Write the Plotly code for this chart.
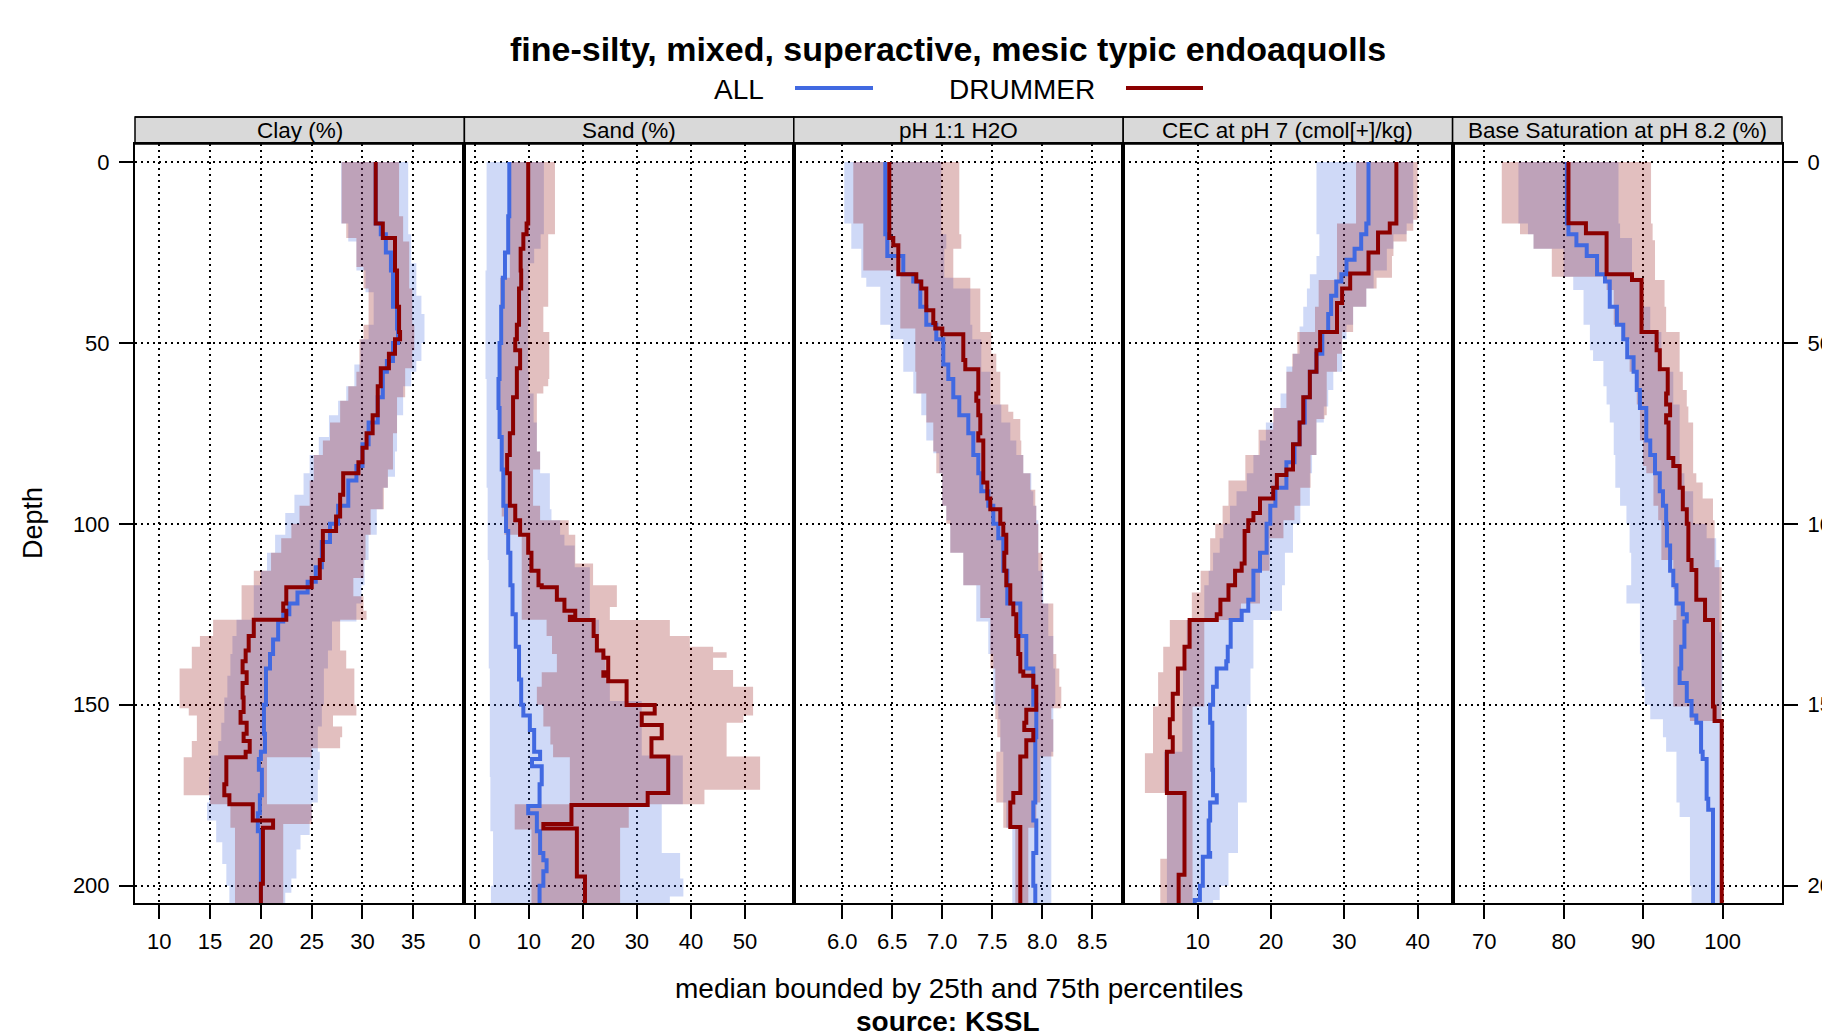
import plotly.graph_objects as go

# ---------------- data: (depth cm, value) pairs ----------------
# Clay (%)
clay_all_p25 = [(0,27.9),(17,28.6),(22,29.4),(30,30.3),(36,31.1),(45,30.6),(49,29.8),(56,29.2),(62,28.4),(66,27.6),(70,26.7),(76,25.7),(81,24.8),(86,24.2),(92,23.3),(97,22.4),(103,21.4),(108,20.6),(113,20.0),(117,19.3),(126.5,17.6),(131,17.2),(136,17.0),(142,16.7),(148,16.4),(155,16.1),(160,15.8),(164,15.0),(170,14.9),(177,14.7),(182,15.6),(188,16.2),(194,16.6),(200,16.9),(205,17.2)]
clay_all_med = [(0,31.3),(17,31.8),(20,32.3),(25,32.8),(30,33.0),(40,33.4),(46,33.5),(50,33.0),(55,32.4),(58,32.0),(65,31.5),(72,30.6),(78,30.0),(84,29.4),(88,28.6),(95,27.6),(100,26.8),(105,26.0),(112,25.4),(116,24.6),(119,23.6),(122,22.8),(125,22.2),(127,21.7),(132,21.2),(136,20.9),(140,20.5),(150,20.3),(158,20.4),(163,20.0),(165,19.8),(168,20.1),(175,19.9),(180,19.7),(185,20.0),(205,20.0)]
clay_all_p75 = [(0,34.5),(20,34.8),(28,35.3),(37,35.8),(42,36.1),(50,35.8),(55,35.3),(58,34.8),(62,34.0),(70,33.4),(80,33.2),(87,32.5),(90,32.0),(96,31.4),(103,30.6),(110,30.2),(117,29.9),(122,29.4),(127,27.0),(135,26.6),(140,26.2),(150,26.0),(156,25.6),(163,25.8),(168,25.6),(177,25.0),(182,24.8),(186,23.9),(190,23.5),(198,23.0),(202,22.4),(205,22.2)]
clay_dr_p25 = [(0,27.95),(17,28.4),(21,29.4),(29,30.1),(35,30.6),(45,30.1),(49,29.7),(58,29.4),(62,28.6),(66,27.8),(72,26.8),(77,26.1),(81,25.2),(88,24.8),(95,23.8),(100,23.0),(104,22.0),(108,21.0),(113,19.3),(117,18.1),(126.5,15.3),(131,14.0),(134,13.2),(140,12.0),(151,12.9),(153,13.7),(160,13.2),(164.5,12.4),(175,15.0),(177.5,17.0),(184,17.45),(205,17.45)]
clay_dr_med = [(0,31.3),(17,32.0),(21,33.2),(30,33.4),(40,33.6),(47,33.7),(49,33.2),(53,32.6),(57,31.8),(62,31.5),(70,31.0),(75,30.4),(79,30.0),(83,29.6),(86,28.1),(92,27.8),(98,27.4),(102,26.1),(110,25.8),(115,25.0),(117.5,22.5),(122,22.2),(124,22.5),(126.5,19.3),(131,18.8),(135,18.5),(138,18.2),(141,18.6),(144,18.2),(148,18.3),(152,18.0),(155,18.6),(158,18.3),(160,18.9),(163,18.5),(164.5,16.6),(172,16.4),(175,16.9),(177.5,19.2),(182,21.2),(184,20.2),(199.5,20.0),(205,20.0)]
clay_dr_p75 = [(0,33.6),(15,34.0),(22,34.6),(35,34.9),(45,35.1),(52,34.9),(57,34.2),(65,33.4),(75,33.0),(85,32.5),(90,32.1),(96,30.8),(103,30.3),(110,30.1),(115,29.1),(120,30.1),(124,30.4),(126.5,27.8),(135,28.4),(140,29.2),(150,29.4),(153,27.1),(156,28.0),(159,27.8),(162,25.0),(164.5,20.6),(177.5,25.0),(183,22.2),(205,22.2)]

# Sand (%)
sand_all_p25 = [(0,2.2),(30,2.0),(60,2.2),(90,2.4),(110,2.6),(140,2.8),(170,2.9),(185,3.4),(200,3.0),(205,3.0)]
sand_all_med = [(0,6.4),(15,6.2),(25,5.6),(32,5.2),(40,4.9),(50,4.6),(60,4.4),(68,4.6),(76,5.0),(85,5.3),(95,5.8),(102,6.2),(108,6.6),(117,7.0),(125,7.6),(134,8.2),(143,8.6),(150,9.0),(153,10.2),(157,11.0),(163,12.1),(165,10.6),(167,12.4),(172,12.0),(178,9.9),(180,11.5),(185,12.1),(191,12.7),(193,13.3),(196,12.7),(200,12.0),(205,11.8)]
sand_all_p75 = [(0,12.8),(20,12.2),(24,11.0),(28,10.0),(45,9.9),(58,10.0),(64,10.9),(72,11.5),(80,12.1),(86,13.9),(96,14.2),(99,15.8),(103,16.6),(106,18.5),(112,21.3),(126.5,23.0),(135,24.2),(143,25.0),(149,30.9),(164,38.5),(177.5,34.6),(191,38.0),(198,38.6),(203,36.1),(205,36.1)]
sand_dr_p25 = [(0,6.5),(32,4.7),(80,5.0),(98,5.5),(103,8.7),(126.5,13.3),(131,14.3),(136,15.2),(141,12.4),(145,11.5),(150,12.7),(156,14.0),(161,14.5),(164.5,17.6),(177.5,7.4),(184.5,10.5),(205,10.5)]
sand_dr_med = [(0,9.9),(17,9.6),(20,9.0),(24,8.5),(30,8.6),(35,8.2),(45,7.8),(49,7.5),(52,8.4),(57,7.8),(65,7.1),(75,6.5),(81,6.0),(86,6.5),(95,7.5),(99,8.4),(103,9.9),(108,10.5),(113,11.8),(117,12.4),(117.5,15.2),(121,16.6),(124,18.6),(125.7,17.6),(126.6,22.0),(131,22.6),(135,23.8),(137,24.7),(141,23.8),(142,24.7),(143.5,28.1),(150.1,33.3),(152.4,30.9),(155.6,34.6),(159.3,32.7),(164.3,35.8),(174.4,32.0),(177.7,17.9),(183,12.7),(184.2,18.9),(197.5,20.4),(205,20.4)]
sand_dr_p75 = [(0,14.85),(20,13.6),(40,12.7),(47,13.8),(60,13.6),(62,12.7),(64,11.5),(80,12.1),(85,10.8),(95,12.1),(99,17.4),(103,18.6),(111,21.9),(117,26.3),(123,25.0),(126.6,36.1),(131,39.8),(134,44.1),(135.5,46.6),(137,44.1),(140.4,47.8),(145,51.5),(153,49.7),(155,46.6),(164.3,52.8),(173.5,42.5),(177.5,28.5),(184,26.9),(205,26.9)]

# pH 1:1 H2O
ph_all_p25 = [(0,6.02),(17,6.09),(24,6.19),(32,6.24),(34.5,6.38),(45,6.48),(49,6.61),(58,6.71),(64,6.79),(70,6.84),(77,6.91),(80.5,6.97),(86,7.0),(95,7.04),(99,7.08),(108,7.21),(117,7.34),(127,7.46),(136,7.51),(150,7.56),(154,7.58),(163,7.61),(177,7.64),(184,7.70),(205,7.70)]
ph_all_med = [(0,6.43),(20,6.45),(26,6.61),(31,6.71),(33,6.78),(40,6.84),(45,6.94),(49,7.01),(56,7.06),(60,7.11),(65,7.17),(70,7.26),(75,7.31),(81,7.36),(86,7.39),(91,7.46),(95,7.51),(100,7.56),(104,7.61),(113,7.65),(122,7.78),(131,7.84),(140,7.91),(150,7.94),(159,7.93),(177,7.91),(182,7.94),(191,7.91),(200,7.93),(205,7.94)]
ph_all_p75 = [(0,6.99),(20,7.04),(24,7.02),(32,7.11),(35,7.28),(45,7.30),(49,7.39),(58,7.48),(67,7.59),(72,7.68),(77,7.74),(81,7.81),(86,7.89),(91,7.91),(95,7.94),(99,7.96),(113,8.01),(122,8.06),(131,8.11),(140,8.13),(150,8.11),(163,8.09),(205,8.08)]
ph_dr_p25 = [(0,6.11),(17,6.21),(30,6.58),(46,6.73),(58,6.74),(64,6.84),(72,6.91),(80,6.94),(86,7.0),(95,7.04),(100,7.08),(108,7.21),(117,7.38),(126,7.48),(140,7.53),(154,7.55),(159,7.58),(163,7.54),(177,7.61),(184,7.73),(205,7.73)]
ph_dr_med = [(0,6.47),(21,6.51),(23,6.56),(31,6.74),(33,6.79),(35,6.84),(41,6.91),(44.5,6.93),(46,7.0),(47.6,7.21),(54.7,7.23),(57.3,7.36),(64,7.34),(66,7.36),(70,7.38),(75,7.36),(77,7.41),(88.6,7.45),(93,7.48),(96,7.58),(100,7.61),(103,7.64),(108,7.62),(113,7.64),(117,7.68),(122,7.71),(125,7.74),(131,7.76),(136,7.78),(140.8,7.81),(142,7.91),(145,7.94),(151.4,7.84),(155,7.82),(157,7.91),(159.8,7.84),(164.3,7.78),(174.4,7.71),(177,7.68),(183.8,7.78),(205,7.78)]
ph_dr_p75 = [(0,7.17),(20,7.19),(24,7.11),(32,7.28),(35,7.38),(47,7.49),(53,7.54),(58,7.58),(67,7.66),(69,7.71),(71,7.78),(77,7.79),(81,7.81),(86,7.88),(90.6,7.93),(95,7.94),(100,7.96),(108,8.0),(122,8.11),(136,8.14),(140,8.17),(145,8.19),(151,8.09),(154,8.11),(164.3,7.98),(177,7.94),(184,7.86),(205,7.86)]

# CEC at pH 7 (cmol[+]/kg)
cec_all_p25 = [(0,26.2),(20,26.6),(26,26.2),(31,25.3),(35,24.9),(40,24.4),(45.5,23.9),(53,23.0),(56.5,22.1),(64,21.3),(68,20.4),(72,19.3),(77,18.5),(81,17.6),(86,16.7),(91,15.3),(95,14.4),(100,13.5),(104,13.0),(108,12.1),(113,11.5),(117,10.9),(126.6,8.5),(140,8.0),(150,7.9),(163,5.4),(174,5.8),(205,5.8)]
cec_all_med = [(0,33.3),(17,33.0),(20,32.3),(24,31.4),(27,30.3),(31,29.6),(33,28.9),(37,28.2),(42,27.8),(47,27.0),(53,26.2),(58,25.3),(65,24.6),(72,23.9),(78,23.2),(83,22.1),(90,20.6),(95,19.9),(100,19.4),(108,18.5),(113,17.6),(121,16.9),(124,16.0),(126.6,14.5),(134,14.1),(138,13.9),(140,12.6),(145,12.1),(150,11.7),(155,12.0),(168,12.1),(175,12.6),(177,11.7),(182,11.5),(191,11.7),(192,10.7),(200,10.3),(204,9.6),(205,9.6)]
cec_all_p75 = [(0,39.4),(17,38.5),(20,36.7),(24,35.8),(30,34.0),(35,33.0),(40,31.2),(45,30.3),(49,29.7),(58,28.5),(63,27.8),(67.6,27.2),(72,26.2),(81,25.6),(86,25.3),(95,24.0),(100,23.0),(108,21.9),(117,21.5),(124,20.0),(126.6,17.6),(140,17.2),(150,16.7),(177,15.5),(191,14.2),(200,13.0),(204,12.1),(205,12.1)]
cec_dr_p25 = [(0,31.6),(17,29.0),(32.6,26.5),(40,26.0),(47,23.6),(53,22.9),(58,22.1),(68,20.3),(74,18.3),(81,16.5),(88,14.2),(95,13.4),(100,12.4),(104,11.7),(113,10.4),(119,9.2),(126.6,6.2),(134,5.3),(141,4.6),(150.5,3.9),(163.4,2.8),(174.4,5.8),(192.6,4.9),(205,4.9)]
cec_dr_med = [(0,37.1),(17,36.2),(19.5,34.6),(25,33.3),(30.8,30.8),(35,29.7),(39,29.0),(47,26.7),(52,26.2),(58,25.3),(65,24.4),(72,23.9),(78,23.0),(85,22.1),(86.5,20.8),(90,20.3),(93,18.5),(97,17.6),(99,16.9),(102,16.4),(111,16.0),(113,15.1),(117,14.2),(121,13.1),(125,12.6),(126.6,8.9),(134,8.2),(140,7.3),(147,6.6),(154,6.2),(159,6.6),(163,5.8),(174.4,8.2),(197,7.4),(205,7.4)]
cec_dr_p75 = [(0,40.0),(16,39.4),(19,38.5),(22,36.7),(26,36.5),(32,34.4),(35,33.0),(40,31.2),(47,29.7),(53,29.0),(58,27.6),(70,27.3),(71,26.2),(81,25.4),(90,24.0),(95,23.2),(99,21.7),(104,19.8),(113,18.5),(122,15.9),(126.6,10.9),(150.5,9.3),(205,9.3)]

# Base Saturation at pH 8.2 (%)
bs_all_p25 = [(0,74.3),(17,75.5),(20,76.2),(24,80.0),(31.7,81.2),(35.4,82.5),(45,83.3),(52,83.7),(55,85.0),(62,85.4),(67,85.8),(72,86.3),(81,86.5),(90,87.1),(95,87.9),(100,88.3),(108,88.5),(117,87.9),(122,89.6),(136,89.8),(145,90.2),(150,90.9),(154,92.5),(159,92.9),(163,94.2),(177,94.6),(181,95.9),(200,96.1),(205,96.3)]
bs_all_med = [(0,80.4),(17,80.6),(20,81.6),(23,82.9),(26,84.2),(31,85.2),(33,85.8),(40,86.7),(45,87.5),(49,88.0),(54,88.8),(58,89.2),(63,89.6),(68,90.4),(77,90.9),(81,91.5),(86,92.1),(91,92.5),(95,92.9),(100,93.0),(106,93.4),(113,93.8),(117,94.2),(122,95.0),(125,95.5),(127,95.2),(134,94.8),(140,94.6),(144,95.5),(149,96.1),(153,96.7),(155,97.3),(163,97.5),(165,98.0),(176,98.2),(179,98.8),(205,99.0)]
bs_all_p75 = [(0,86.9),(17,87.1),(21,88.6),(32,89.8),(40,90.9),(47,92.3),(58,93.8),(67,94.6),(86,95.2),(91,96.3),(100,98.0),(104,99.2),(110,99.6),(130,100.0),(150,99.8),(205,99.6)]
bs_dr_p25 = [(0,72.2),(17,74.5),(20,76.2),(24,78.5),(31.7,85.4),(35.4,86.3),(45,87.5),(49,88.3),(58,89.2),(67,89.6),(77,90.0),(84,90.4),(86,91.3),(95,91.9),(99,92.3),(110,93.8),(118,94.2),(126.6,93.8),(150.5,95.9),(154.5,100.0),(205,100.0)]
bs_dr_med = [(0,80.6),(16.9,82.8),(19.7,85.4),(31,88.6),(32.6,89.8),(47,91.7),(52,92.1),(57.3,93.1),(64,92.9),(67,93.4),(70,92.9),(72,93.2),(81.8,93.8),(84,94.6),(90,95.0),(96,95.5),(100,95.7),(110,96.1),(112.8,96.7),(121,97.8),(126.6,98.8),(150.5,99.0),(154.5,99.9),(205,100.0)]
bs_dr_p75 = [(0,91.0),(17,91.2),(21.6,91.5),(32.6,92.7),(40,92.9),(47,94.6),(58,95.0),(63,95.5),(67.6,95.7),(72,96.3),(86,96.7),(88.6,97.5),(93,98.8),(99,99.0),(112,99.9),(154.5,100.0),(205,100.0)]

panel_titles = ["Clay (%)", "Sand (%)", "pH 1:1 H2O", "CEC at pH 7 (cmol[+]/kg)", "Base Saturation at pH 8.2 (%)"]
panel_ticks = [[10, 15, 20, 25, 30, 35], [0, 10, 20, 30, 40, 50], [6.0, 6.5, 7.0, 7.5, 8.0, 8.5], [10, 20, 30, 40], [70, 80, 90, 100]]
panel_ticktext = [["10", "15", "20", "25", "30", "35"], ["0", "10", "20", "30", "40", "50"],
                  ["6.0", "6.5", "7.0", "7.5", "8.0", "8.5"], ["10", "20", "30", "40"], ["70", "80", "90", "100"]]
depth_ticks = [0, 50, 100, 150, 200]
group_names = ["ALL", "DRUMMER"]

all_series = [(clay_all_p25, clay_all_med, clay_all_p75), (sand_all_p25, sand_all_med, sand_all_p75),
              (ph_all_p25, ph_all_med, ph_all_p75), (cec_all_p25, cec_all_med, cec_all_p75),
              (bs_all_p25, bs_all_med, bs_all_p75)]
dr_series = [(clay_dr_p25, clay_dr_med, clay_dr_p75), (sand_dr_p25, sand_dr_med, sand_dr_p75),
             (ph_dr_p25, ph_dr_med, ph_dr_p75), (cec_dr_p25, cec_dr_med, cec_dr_p75),
             (bs_dr_p25, bs_dr_med, bs_dr_p75)]

# ---------------- styling / layout ----------------
# page body has an 8px margin; all pixel targets below are page pixels
OFF = 8
W, H = 1830, 1032
PLOT_L, PLOT_R, PLOT_T, PLOT_B = 135, 1782, 144, 903   # page px
ML, MT = PLOT_L - OFF, PLOT_T - OFF
MR, MB = W - (PLOT_R - OFF), H - (PLOT_B - OFF)
PW, PH = PLOT_R - PLOT_L, PLOT_B - PLOT_T
x_ranges = [[7.61, 40.03], [-1.905, 59.03], [5.515, 8.809], [-0.16, 44.77], [66.01, 107.49]]
y_range = [204.8, -4.97]
FONT = "Liberation Sans, Arial, sans-serif"
BLUE, RED = "rgb(65,105,225)", "rgb(139,0,0)"
BLUE_FILL, RED_FILL = "rgba(65,105,225,0.25)", "rgba(139,0,0,0.25)"


def px_x(px):
    return (px - PLOT_L) / PW


def px_y(py):
    return (PLOT_B - py) / PH


def split(pairs):
    return [p[1] for p in pairs], [p[0] for p in pairs]


fig = go.Figure()
for i in range(5):
    xa = "x" if i == 0 else f"x{i+1}"
    ya = "y" if i == 0 else f"y{i+1}"
    for grp, fillc in ((all_series[i], BLUE_FILL), (dr_series[i], RED_FILL)):
        p25, med, p75 = grp
        x, y = split(p25)
        fig.add_trace(go.Scatter(x=x, y=y, mode="lines", line=dict(width=0, shape="vh"),
                                 xaxis=xa, yaxis=ya, showlegend=False, hoverinfo="skip"))
        x, y = split(p75)
        fig.add_trace(go.Scatter(x=x, y=y, mode="lines", line=dict(width=0, shape="vh"),
                                 fill="tonextx", fillcolor=fillc,
                                 xaxis=xa, yaxis=ya, showlegend=False, hoverinfo="skip"))
    for grp, col, name in ((all_series[i], BLUE, group_names[0]), (dr_series[i], RED, group_names[1])):
        x, y = split(grp[1])
        fig.add_trace(go.Scatter(x=x, y=y, mode="lines", line=dict(width=4, color=col, shape="vh"),
                                 xaxis=xa, yaxis=ya, showlegend=False, name=name))

layout = dict(
    width=W, height=H, paper_bgcolor="white", plot_bgcolor="white",
    margin=dict(l=ML, r=MR, t=MT, b=MB, autoexpand=False),
    font=dict(family=FONT, color="black"), showlegend=False,
)
for i in range(5):
    xk = "xaxis" if i == 0 else f"xaxis{i+1}"
    yk = "yaxis" if i == 0 else f"yaxis{i+1}"
    xa = "x" if i == 0 else f"x{i+1}"
    ya = "y" if i == 0 else f"y{i+1}"
    layout[xk] = dict(domain=[i / 5, (i + 1) / 5], range=x_ranges[i], anchor=ya,
                      tickmode="array", tickvals=panel_ticks[i], ticktext=panel_ticktext[i],
                      ticks="outside", ticklen=14, tickwidth=1.5, tickcolor="black",
                      ticklabelstandoff=4,
                      tickfont=dict(size=22, family=FONT, color="black"),
                      showline=True, mirror=True, linecolor="black", linewidth=2,
                      showgrid=True, gridcolor="black", gridwidth=1.6, griddash="2px,4px",
                      zeroline=False, fixedrange=True)
    show = i in (0, 4)
    layout[yk] = dict(domain=[0, 1], range=y_range, anchor=xa,
                      tickmode="array", tickvals=depth_ticks,
                      showticklabels=show, ticks="outside" if show else "",
                      side="right" if i == 4 else "left",
                      ticklen=14, tickwidth=1.5, tickcolor="black",
                      ticklabelstandoff=5,
                      tickfont=dict(size=22, family=FONT, color="black"),
                      showline=True, mirror=True, linecolor="black", linewidth=2,
                      showgrid=True, gridcolor="black", gridwidth=1.6, griddash="2px,4px",
                      zeroline=False, fixedrange=True)
fig.update_layout(**layout)

shapes = []
annotations = []
strip_top = px_y(117)
for i in range(5):
    shapes.append(dict(type="rect", xref="paper", yref="paper", x0=i / 5, x1=(i + 1) / 5,
                       y0=1, y1=strip_top, fillcolor="#d9d9d9", line=dict(color="black", width=1.5),
                       layer="below"))
    annotations.append(dict(text=panel_titles[i], xref="paper", yref="paper",
                            x=(i + 0.5) / 5, y=px_y(130.5), showarrow=False,
                            xanchor="center", yanchor="middle",
                            font=dict(size=22.5, family=FONT, color="black")))
shapes.append(dict(type="line", xref="paper", yref="paper", x0=0, x1=1, y0=strip_top, y1=strip_top,
                   line=dict(color="black", width=1.5)))

# title and legend
annotations.append(dict(text="<b>fine-silty, mixed, superactive, mesic typic endoaquolls</b>",
                        xref="paper", yref="paper", x=px_x(948), y=px_y(49), showarrow=False,
                        xanchor="center", yanchor="middle", font=dict(size=34, family=FONT, color="black")))
annotations.append(dict(text=group_names[0], xref="paper", yref="paper", x=px_x(739), y=px_y(90),
                        showarrow=False, xanchor="center", yanchor="middle",
                        font=dict(size=28, family=FONT, color="black")))
annotations.append(dict(text=group_names[1], xref="paper", yref="paper", x=px_x(1022), y=px_y(90),
                        showarrow=False, xanchor="center", yanchor="middle",
                        font=dict(size=28, family=FONT, color="black")))
shapes.append(dict(type="line", xref="paper", yref="paper", x0=px_x(795), x1=px_x(873),
                   y0=px_y(88), y1=px_y(88), line=dict(color=BLUE, width=4)))
shapes.append(dict(type="line", xref="paper", yref="paper", x0=px_x(1126), x1=px_x(1203),
                   y0=px_y(88), y1=px_y(88), line=dict(color=RED, width=4)))

# axis title / captions
annotations.append(dict(text="Depth", xref="paper", yref="paper", x=px_x(33), y=px_y(523),
                        showarrow=False, textangle=-90, xanchor="center", yanchor="middle",
                        font=dict(size=27, family=FONT, color="black")))
annotations.append(dict(text="median bounded by 25th and 75th percentiles", xref="paper", yref="paper",
                        x=px_x(959), y=px_y(988.5), showarrow=False, xanchor="center", yanchor="middle",
                        font=dict(size=28, family=FONT, color="black")))
annotations.append(dict(text="<b>source: KSSL</b>", xref="paper", yref="paper",
                        x=px_x(948), y=px_y(1022), showarrow=False, xanchor="center", yanchor="middle",
                        font=dict(size=28, family=FONT, color="black")))

fig.update_layout(shapes=shapes, annotations=annotations)
fig.write_html("out.html")
